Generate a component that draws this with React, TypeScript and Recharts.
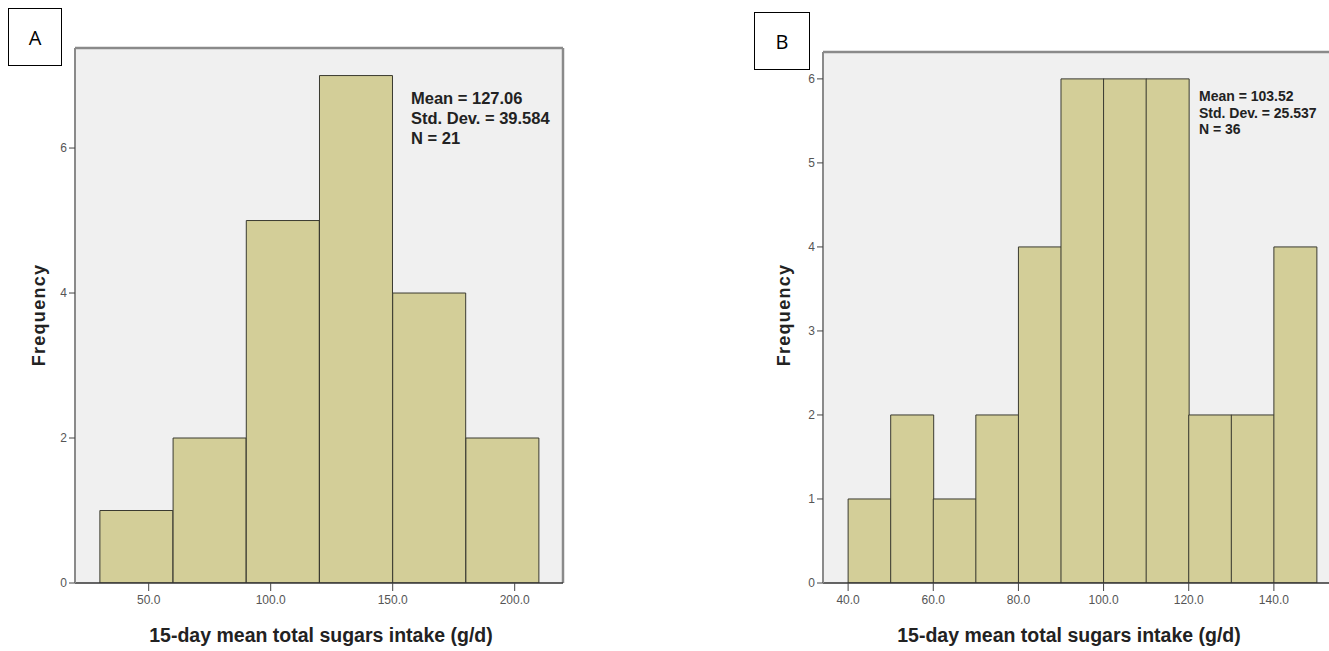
import React from 'react';
import { BarChart, Bar, XAxis, YAxis, CartesianGrid, ReferenceLine } from 'recharts';

const binCentersA = [45, 75, 105, 135, 165, 195];
const countsA = [1, 2, 5, 7, 4, 2];
const xTicksA = [50, 100, 150, 200];
const yTicksA = [0, 2, 4, 6];
const statsA = ['Mean = 127.06', 'Std. Dev. = 39.584', 'N = 21'];

const binCentersB = [45, 55, 65, 75, 85, 95, 105, 115, 125, 135, 145];
const countsB = [1, 2, 1, 2, 4, 6, 6, 6, 2, 2, 4];
const xTicksB = [40, 60, 80, 100, 120, 140];
const yTicksB = [0, 1, 2, 3, 4, 5, 6];
const statsB = ['Mean = 103.52', 'Std. Dev. = 25.537', 'N = 36'];

const xTitle = '15-day mean total sugars intake (g/d)';
const yTitle = 'Frequency';

const dataA = binCentersA.map((x, i) => ({ x, count: countsA[i] }));
const dataB = binCentersB.map((x, i) => ({ x, count: countsB[i] }));

const BAR_FILL = '#d3ce98';
const BAR_STROKE = '#3a3a30';
const PLOT_BG = '#f0f0f0';
const FRAME = '#8a8a8a';
const sans = '"Liberation Sans", Arial, sans-serif';

type HistProps = {
  data: { x: number; count: number }[];
  xDomain: [number, number];
  yDomain: [number, number];
  xTicks: number[];
  yTicks: number[];
  width: number;
  height: number;
  margin: { top: number; right: number; bottom: number; left: number };
};

function Hist({ data, xDomain, yDomain, xTicks, yTicks, width, height, margin }: HistProps) {
  return (
    <BarChart width={width} height={height} data={data} margin={margin} barCategoryGap={0} barGap={0}>
      <CartesianGrid horizontal={false} vertical={false} fill={PLOT_BG} />
      <XAxis
        xAxisId="b"
        dataKey="x"
        type="number"
        domain={xDomain}
        ticks={xTicks}
        allowDataOverflow
        tickFormatter={(v: number) => v.toFixed(1)}
        tick={{ fill: '#555', fontSize: 12, fontFamily: sans }}
        tickLine={{ stroke: '#444' }}
        tickSize={8}
        tickMargin={4}
        axisLine={{ stroke: '#333', strokeWidth: 1.5 }}
        height={30}
      />
      <YAxis
        yAxisId="l"
        type="number"
        domain={yDomain}
        ticks={yTicks}
        allowDataOverflow
        tick={{ fill: '#555', fontSize: 12, fontFamily: sans }}
        tickLine={{ stroke: '#444' }}
        tickSize={6}
        tickMargin={2}
        axisLine={{ stroke: FRAME, strokeWidth: 2 }}
        width={20}
      />
      <Bar xAxisId="b" yAxisId="l" dataKey="count" fill={BAR_FILL} stroke={BAR_STROKE} strokeWidth={1} isAnimationActive={false} />
      <ReferenceLine xAxisId="b" yAxisId="l" y={yDomain[1]} stroke={FRAME} strokeWidth={2.5} />
      <ReferenceLine xAxisId="b" yAxisId="l" x={xDomain[1]} stroke={FRAME} strokeWidth={2.5} />
    </BarChart>
  );
}

const abs = (style: React.CSSProperties): React.CSSProperties => ({ position: 'absolute', ...style });

export default function App() {
  return (
    <div style={abs({ left: 0, top: 0, width: 1329, height: 651, overflow: 'hidden', background: '#fff' })}>
      <div style={abs({ left: 0, top: 0 })}>
        <Hist
          data={dataA}
          xDomain={[19.8, 219.8]}
          yDomain={[0, 7.38]}
          xTicks={xTicksA}
          yTicks={yTicksA}
          width={600}
          height={651}
          margin={{ top: 48, right: 37, bottom: 38, left: 55 }}
        />
      </div>
      <div style={abs({ left: 740, top: 0 })}>
        <Hist
          data={dataB}
          xDomain={[34.1, 156]}
          yDomain={[0, 6.32]}
          xTicks={xTicksB}
          yTicks={yTicksB}
          width={640}
          height={651}
          margin={{ top: 52, right: 38, bottom: 38, left: 63 }}
        />
      </div>
      {/* stats text */}
      <div style={abs({ left: 411, top: 88, fontFamily: sans, fontWeight: 'bold', fontSize: 16.5, lineHeight: '20px', color: '#222', whiteSpace: 'nowrap' })}>
        {statsA.map((s) => (<div key={s}>{s}</div>))}
      </div>
      <div style={abs({ left: 1199, top: 88, fontFamily: sans, fontWeight: 'bold', fontSize: 14, lineHeight: '16.5px', color: '#222', whiteSpace: 'nowrap' })}>
        {statsB.map((s) => (<div key={s}>{s}</div>))}
      </div>
      {/* axis titles */}
      <div style={abs({ left: 321, top: 635, transform: 'translate(-50%, -50%)', whiteSpace: 'nowrap', fontFamily: sans, fontWeight: 'bold', fontSize: 19.5, color: '#222' })}>{xTitle}</div>
      <div style={abs({ left: 1069, top: 635, transform: 'translate(-50%, -50%)', whiteSpace: 'nowrap', fontFamily: sans, fontWeight: 'bold', fontSize: 19.5, color: '#222' })}>{xTitle}</div>
      <div style={abs({ left: 39, top: 315, transform: 'translate(-50%, -50%) rotate(-90deg)', whiteSpace: 'nowrap', fontFamily: sans, fontWeight: 'bold', fontSize: 18, letterSpacing: 1.3, color: '#222' })}>{yTitle}</div>
      <div style={abs({ left: 784, top: 315, transform: 'translate(-50%, -50%) rotate(-90deg)', whiteSpace: 'nowrap', fontFamily: sans, fontWeight: 'bold', fontSize: 18, letterSpacing: 1.3, color: '#222' })}>{yTitle}</div>
      {/* panel labels */}
      <div style={abs({ left: 8, top: 8, width: 52, height: 56, border: '1px solid #000', display: 'flex', alignItems: 'center', justifyContent: 'center', fontFamily: '"Open Sans", "Noto Sans", sans-serif', fontSize: 20 })}>A</div>
      <div style={abs({ left: 754, top: 12, width: 54, height: 56, border: '1px solid #000', display: 'flex', alignItems: 'center', justifyContent: 'center', fontFamily: '"Open Sans", "Noto Sans", sans-serif', fontSize: 20 })}>B</div>
    </div>
  );
}
